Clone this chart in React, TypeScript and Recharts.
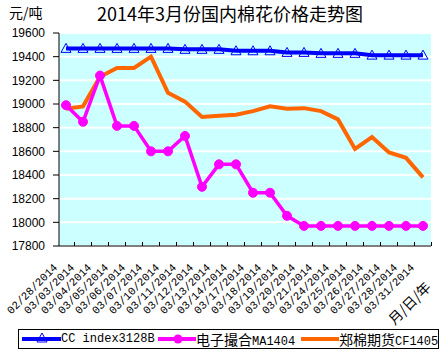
import { LineChart, Line, XAxis, YAxis, CartesianGrid, Legend, Label } from "recharts";

const dates = [
  "02/28/2014", "03/03/2014", "03/04/2014", "03/05/2014", "03/06/2014", "03/07/2014",
  "03/10/2014", "03/11/2014", "03/12/2014", "03/13/2014", "03/14/2014", "03/17/2014",
  "03/18/2014", "03/19/2014", "03/20/2014", "03/21/2014", "03/24/2014", "03/25/2014",
  "03/26/2014", "03/27/2014", "03/28/2014", "03/31/2014",
];

// CC index 3128B
const ccIndex = [
  19470, 19470, 19470, 19470, 19470, 19470, 19470, 19462, 19462, 19462, 19450,
  19450, 19450, 19436, 19436, 19428, 19428, 19428, 19413, 19413, 19413, 19413,
];

// 电子撮合 MA1404
const ma1404 = [
  18990, 18850, 19240, 18815, 18815, 18600, 18600, 18730, 18300, 18490, 18490,
  18250, 18250, 18055, 17970, 17970, 17970, 17970, 17970, 17970, 17970, 17970,
];

// 郑棉期货 CF1405
const cf1405 = [
  18960, 18980, 19230, 19305, 19305, 19400, 19095, 19020, 18890, 18900, 18910,
  18940, 18980, 18960, 18965, 18940, 18870, 18620, 18720, 18590, 18545, 18380,
];

const yTicks = [17800, 18000, 18200, 18400, 18600, 18800, 19000, 19200, 19400, 19600];

const data = dates.map((date, i) => ({
  date,
  cc: ccIndex[i],
  ma: ma1404[i],
  cf: cf1405[i],
}));

const BLUE = "#0000FF";
const MAGENTA = "#FF00FF";
const ORANGE = "#FF6600";
const MONO = "'Liberation Mono', 'DejaVu Sans Mono', monospace";
const CJK = "'Noto Sans CJK SC', sans-serif";

function DateTick({ x, y, payload }: any) {
  const ax = x - 8;
  const ay = y + 22;
  return (
    <g>
      <line x1={x + 8.5} y1={y} x2={x + 8.5} y2={y - 4} stroke="#000" />
      <text
        x={ax}
        y={ay}
        transform={`rotate(-45, ${ax}, ${ay})`}
        textAnchor="end"
        fontSize={11}
        fontFamily={MONO}
        fill="#000"
      >
        {payload.value}
      </text>
    </g>
  );
}

function TriangleDot({ cx, cy, index }: any) {
  return (
    <polygon
      key={`cc-${index}`}
      points={`${cx},${cy - 5} ${cx - 5},${cy + 4} ${cx + 5},${cy + 4}`}
      fill="none"
      stroke={BLUE}
      strokeWidth={1}
    />
  );
}

function LegendBox() {
  const item = (left: number): React.CSSProperties => ({
    position: "absolute",
    left,
    top: 0,
    height: 18,
    lineHeight: "18px",
    whiteSpace: "nowrap",
    color: "#000",
  });
  return (
    <div
      style={{
        position: "relative",
        width: 419,
        height: 18,
        border: "1px solid #000",
        background: "#fff",
      }}
    >
      <svg style={{ position: "absolute", left: 3, top: 0 }} width={39} height={18}>
        <line x1={0} y1={9} x2={39} y2={9} stroke={BLUE} strokeWidth={4} />
        <polygon points="20,3 15,12 25,12" fill="none" stroke={BLUE} />
      </svg>
      <span style={{ ...item(42), fontFamily: MONO, fontSize: 12 }}>CC index3128B</span>
      <svg style={{ position: "absolute", left: 139, top: 0 }} width={38} height={18}>
        <line x1={0} y1={9} x2={38} y2={9} stroke={MAGENTA} strokeWidth={4} />
        <circle cx={20} cy={9} r={4.5} fill={MAGENTA} />
      </svg>
      <span style={item(177)}>
        <span style={{ fontFamily: CJK, fontSize: 14 }}>电子撮合</span>
        <span style={{ fontFamily: MONO, fontSize: 12 }}>MA1404</span>
      </span>
      <svg style={{ position: "absolute", left: 282, top: 0 }} width={38} height={18}>
        <line x1={0} y1={9} x2={38} y2={9} stroke={ORANGE} strokeWidth={4} />
      </svg>
      <span style={item(320)}>
        <span style={{ fontFamily: CJK, fontSize: 14 }}>郑棉期货</span>
        <span style={{ fontFamily: MONO, fontSize: 12 }}>CF1405</span>
      </span>
    </div>
  );
}

export default function App() {
  return (
    <div
      style={{
        position: "absolute",
        left: 0,
        top: 0,
        width: 445,
        height: 354,
        background: "#fff",
      }}
    >
      <div
        style={{
          position: "absolute",
          left: 97,
          top: 1,
          fontFamily: CJK,
          fontSize: 18,
          lineHeight: "24px",
          whiteSpace: "nowrap",
          color: "#000",
        }}
      >
        2014年3月份国内棉花价格走势图
      </div>
      <div
        style={{
          position: "absolute",
          left: 9,
          top: 2,
          fontFamily: CJK,
          fontSize: 14,
          lineHeight: "20px",
          whiteSpace: "nowrap",
          color: "#000",
        }}
      >
        元/吨
      </div>
      <LineChart
        width={445}
        height={354}
        data={data}
        margin={{ top: 33, right: 14, bottom: 0, left: 0 }}
      >
        <CartesianGrid
          vertical={false}
          fill="#CCFFFF"
          fillOpacity={1}
          stroke="#FFFFFF"
          strokeWidth={2}
        />
        <XAxis
          dataKey="date"
          scale="point"
          padding={{ left: 7, right: 8 }}
          interval={0}
          height={108}
          tickSize={0}
          tickMargin={0}
          tickLine={false}
          axisLine={{ stroke: "#000" }}
          tick={<DateTick />}
        >
          <Label
            content={({ viewBox }: any) => {
              const lx = viewBox.x + viewBox.width + 1;
              const ly = viewBox.y + 42;
              return (
                <text
                  x={lx}
                  y={ly}
                  transform={`rotate(-45, ${lx}, ${ly})`}
                  textAnchor="end"
                  fontFamily={CJK}
                  fontSize={14}
                  fill="#000"
                >
                  月/日/年
                </text>
              );
            }}
          />
        </XAxis>
        <YAxis
          domain={[17800, 19600]}
          ticks={yTicks}
          interval={0}
          width={59}
          tickSize={6}
          tickMargin={8}
          axisLine={{ stroke: "#000" }}
          tickLine={{ stroke: "#000" }}
          tick={{ fill: "#000", fontSize: 12, fontFamily: "'Liberation Sans', Arial, sans-serif" }}
        />
        <Legend
          layout="horizontal"
          verticalAlign="middle"
          align="center"
          wrapperStyle={{ top: 329, left: 18, width: 421, height: 20 }}
          content={() => <LegendBox />}
        />
        <Line
          type="linear"
          dataKey="cf"
          name="郑棉期货CF1405"
          stroke={ORANGE}
          strokeWidth={4}
          dot={false}
          isAnimationActive={false}
        />
        <Line
          type="linear"
          dataKey="ma"
          name="电子撮合MA1404"
          stroke={MAGENTA}
          strokeWidth={3.5}
          dot={{ r: 4.5, fill: MAGENTA, stroke: MAGENTA, strokeWidth: 1 }}
          isAnimationActive={false}
        />
        <Line
          type="linear"
          dataKey="cc"
          name="CC index3128B"
          stroke={BLUE}
          strokeWidth={4}
          dot={(p: any) => <TriangleDot key={`cc-${p.index}`} {...p} />}
          isAnimationActive={false}
        />
      </LineChart>
    </div>
  );
}
